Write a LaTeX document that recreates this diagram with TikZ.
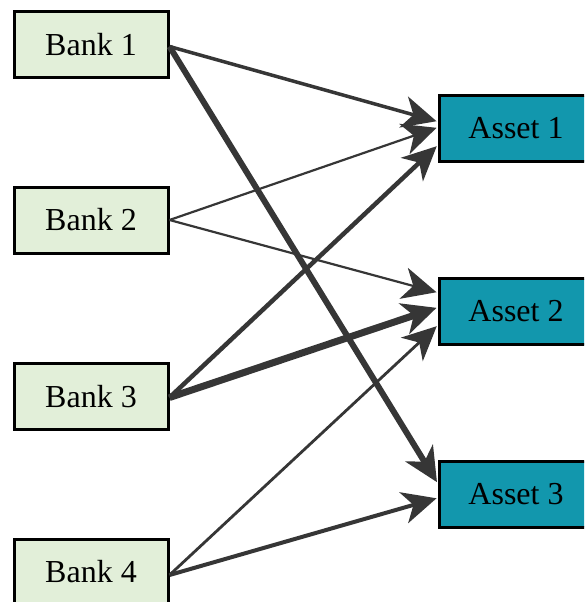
\documentclass[tikz,border=0pt]{standalone}
\usepackage{fontspec}
\setmainfont{Liberation Serif}
\usetikzlibrary{arrows.meta}
\definecolor{bankfill}{HTML}{E2EFD9}
\definecolor{assetfill}{HTML}{1297AD}
\definecolor{edgec}{HTML}{363636}
\tikzset{
  box/.style={draw=black, line width=3pt, minimum width=154pt, minimum height=66pt,
    inner sep=0pt, font=\fontsize{32}{38}\selectfont},
  bank/.style={box, fill=bankfill},
  asset/.style={box, fill=assetfill},
  link/.style={draw=edgec, -{Stealth[length=34pt, width=32pt, inset=10pt]}, shorten >=1pt},
}
\begin{document}
\begin{tikzpicture}[x=1pt, y=-1pt]
\useasboundingbox (0,0) rectangle (584,602);
\clip (0,0) rectangle (584,602);
\node[bank] (b1) at (91,44.5) {Bank 1};
\node[bank] (b2) at (91,220) {Bank 2};
\node[bank] (b3) at (91,396.5) {Bank 3};
\node[bank] (b4) at (91,572) {Bank 4};
\node[asset] (a1) at (516,128.5) {Asset 1};
\node[asset] (a2) at (516,311.5) {Asset 2};
\node[asset] (a3) at (516,494) {Asset 3};
\coordinate (s1) at ([yshift=-2pt]b1.east);
\coordinate (s3) at ([yshift=-1pt]b3.east);
\coordinate (s4) at ([yshift=-3pt]b4.east);
\draw[link, line width=3.5pt] (s1) -- ([yshift=7pt]a1.west);
\draw[link, line width=6pt] (s1) -- ([yshift=11pt]a3.west);
\draw[link, line width=2.2pt] (b2.east) -- ([yshift=1pt]a1.west);
\draw[link, line width=2.2pt] (b2.east) -- ([yshift=19pt]a2.west);
\draw[link, line width=4.5pt] (s3) -- ([yshift=-17pt]a1.west);
\draw[link, line width=7pt] (s3) -- ([yshift=4pt]a2.west);
\draw[link, line width=2.8pt] (s4) -- ([yshift=-14pt]a2.west);
\draw[link, line width=4pt] (s4) -- ([yshift=-4pt]a3.west);
\end{tikzpicture}
\end{document}
